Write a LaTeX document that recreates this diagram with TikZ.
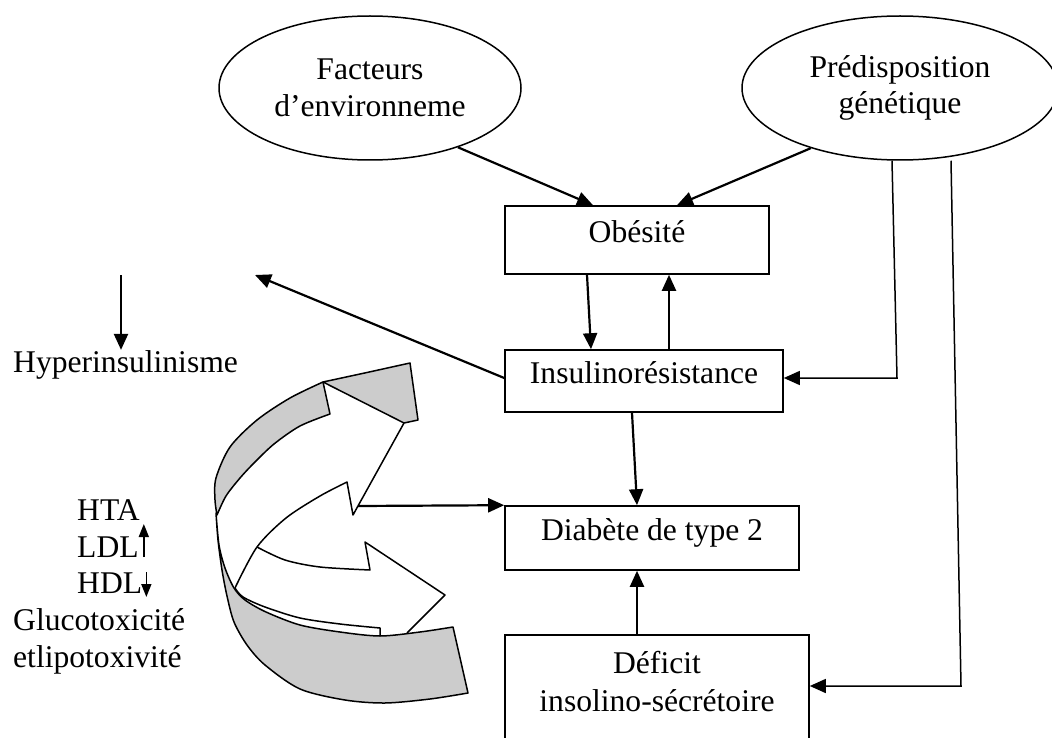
\documentclass[tikz,border=0pt]{standalone}
\usepackage{fontspec}
\setmainfont{Liberation Serif}
\usetikzlibrary{arrows.meta,shapes.geometric}
\begin{document}
\begin{tikzpicture}[x=1pt,y=-1pt,
  font=\fontsize{31.6pt}{36.7pt}\selectfont,
  boxnode/.style={draw, line width=1.6pt, rectangle, inner sep=0pt,
    text height=0.72em, text depth=0.22em},
  oval/.style={draw, ellipse, line width=1.5pt, inner sep=0pt, align=center,
    minimum height=144pt},
  txt/.style={anchor=base west, inner sep=0pt},
  arr/.style={line width=2.2pt, -{Triangle[length=16pt,width=14pt]}},
  genline/.style={line width=1.5pt, -{Triangle[length=16pt,width=14pt]}},
  smallarr/.style={line width=1.6pt, -{Triangle[length=13pt,width=10pt]}},
  ribbon/.style={draw, fill=black!20, line width=1.5pt, line join=round},
  ribline/.style={draw, line width=1.5pt, line join=round}]

\useasboundingbox (0,0) rectangle (1052,738);

% causes
\node[oval, minimum width=302pt] (fact) at (370,88) {Facteurs\\d’environneme};
\node[oval, minimum width=316pt] (gen) at (900,88) {Prédisposition\\génétique};

% main chain
\node[boxnode, minimum width=264pt, minimum height=68pt] (obes) at (637,240) {Obésité};
\node[boxnode, minimum width=278pt, minimum height=62pt] (insu) at (644,381) {Insulinorésistance};
\node[boxnode, minimum width=294pt, minimum height=64pt] (diab) at (652,538) {Diabète de type 2};
\node[draw, line width=1.6pt, inner sep=0pt, minimum width=304pt, minimum height=120pt,
  anchor=north] (def) at (657,634) {};
\node[anchor=north, align=center, inner sep=0pt] (deftxt) at (657,651.5)
  {Déficit\\[1.3pt]insolino-sécrétoire};

% left-hand consequences
\node[txt] (hyp) at (13,372) {Hyperinsulinisme};
\node[txt] (hta) at (77,520) {HTA};
\node[txt] (ldl) at (77,557) {LDL};
\node[txt] (hdl) at (77,593) {HDL};
\node[txt] (gluc) at (13,630) {Glucotoxicité};
\node[txt] (lipo) at (13,667) {etlipotoxivité};

\draw[smallarr] ([xshift=5pt]ldl.base east) -- ++(0,-33);
\draw[smallarr] ([xshift=4pt,yshift=21pt]hdl.base east) -- ++(0,25);

% free ends and bends
\coordinate (hypend) at (255,275);
\coordinate (hyptop) at (121,275);
\coordinate (g1) at (897,378);
\coordinate (g2) at (961,686);
\coordinate (cvtip) at (358,506);

% connectors
\draw[arr] (fact.-34) -- ([xshift=-44pt]obes.north);
\draw[arr] (gen.-146) -- ([xshift=40pt]obes.north);
\draw[arr] ([xshift=-50pt]obes.south) -- ([xshift=-53pt]insu.north);
\draw[arr] ([xshift=25pt]insu.north) -- ([xshift=25pt]insu.north |- obes.south);
\draw[arr] ([xshift=-12pt]insu.south) -- ([xshift=-15pt]diab.north);
\draw[arr] ([xshift=-20pt]def.north) -- ([xshift=-20pt]def.north |- diab.south);
\draw[genline] ([xshift=-8pt]gen.south) -- (g1) -- (g1 -| insu.east);
\draw[genline] ([xshift=51pt]gen.south) -- (g2) -- (g2 -| def.east);
\draw[arr] ([yshift=3pt]insu.west) -- (hypend);
\draw[arr] (hyptop) -- (hyptop |- hyp.north);

% vicious-circle ribbon arrows: lower band (back)
\filldraw[ribbon] plot[smooth] coordinates {(216,513) (218,540) (222,570) (227,596)
    (234,622) (247,645) (265,665) (300,689) (345,700) (385,703) (430,699) (468,693)}
  -- (453,627)
  -- plot[smooth] coordinates {(453,627) (420,632) (380,636) (340,632) (300,625)
    (266,612) (245,600) (234,588) (225,568) (219,545) (216,513)}
  -- cycle;

% upper band and folded tip
\filldraw[ribbon] plot[smooth] coordinates {(323,382) (290,398) (257,420) (230,447)
    (216,478) (215,500) (217,515)}
  -- plot[smooth] coordinates {(217,515) (226,496) (240,478) (254,463) (274,444)
    (300,426) (330,414)}
  -- cycle;
\filldraw[ribbon] (323,382) -- (367,372.5) -- (410,363) -- (418,420) -- (404,423) -- cycle;

% upper arrow head and shaft
\draw[ribline] (404,423) -- (353,515) -- (347,482)
  -- plot[smooth] coordinates {(347,482) (320,496) (286,518) (257,547) (235,588)};
\draw[ribline] plot[smooth] coordinates {(235,588) (243,597) (265,607) (300,618)
    (340,624) (380,628)} -- (380,636);

% lower arrow
\draw[ribline] plot[smooth] coordinates {(257,547) (285,560) (320,567) (370,570)}
  -- (365,542) -- (445,595) -- (407,633);

\draw[arr] (cvtip) -- (diab.north west);

\end{tikzpicture}
\end{document}
